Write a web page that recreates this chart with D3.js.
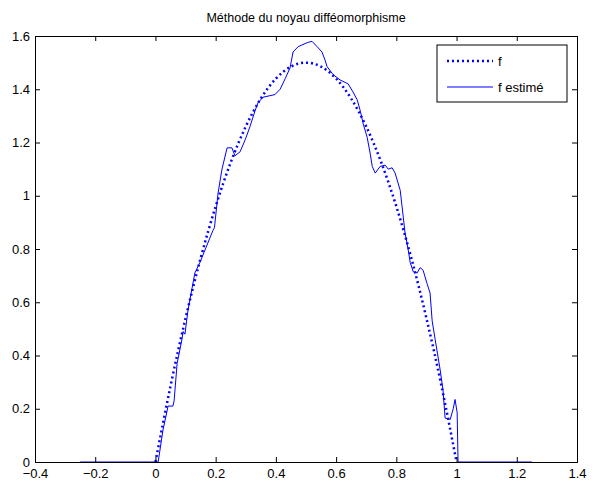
<!DOCTYPE html>
<html>
<head>
<meta charset="utf-8">
<script src="https://cdn.jsdelivr.net/npm/d3@7"></script>
<style>
  body { margin: 0; background: #fff; }
  svg { display: block; font-family: "Liberation Sans", Arial, sans-serif; }
</style>
</head>
<body>
<svg id="chart"></svg>
<script>
const width = 592
const height = 489

const title = "Méthode du noyau difféomorphisme"
const legendLabels = ["f", "f estimé"]
const xTicks = [-0.4, -0.2, 0, 0.2, 0.4, 0.6, 0.8, 1, 1.2, 1.4]
const yTicks = [0, 0.2, 0.4, 0.6, 0.8, 1, 1.2, 1.4, 1.6]

// true density f
const fX = [0, 0.05, 0.1, 0.15, 0.2, 0.25, 0.3, 0.35, 0.4, 0.45, 0.5, 0.55, 0.6, 0.65, 0.7, 0.75, 0.8, 0.85, 0.9, 0.95, 1]
const fY = [0, 0.285, 0.54, 0.765, 0.96, 1.125, 1.26, 1.365, 1.44, 1.485, 1.5, 1.485, 1.44, 1.365, 1.26, 1.125, 0.96, 0.765, 0.54, 0.285, 0]

// estimated density
const estX = [-0.25, 0.009, 0.015, 0.025, 0.042, 0.058, 0.062, 0.072, 0.088, 0.092, 0.098, 0.108, 0.131, 0.148, 0.191, 0.196, 0.208, 0.221, 0.238, 0.254, 0.264, 0.281, 0.298, 0.314, 0.331, 0.341, 0.357, 0.397, 0.414, 0.431, 0.447, 0.457, 0.474, 0.504, 0.52, 0.537, 0.553, 0.563, 0.57, 0.59, 0.613, 0.64, 0.656, 0.67, 0.68, 0.69, 0.703, 0.713, 0.72, 0.73, 0.746, 0.763, 0.773, 0.786, 0.796, 0.813, 0.823, 0.829, 0.839, 0.846, 0.856, 0.869, 0.879, 0.889, 0.902, 0.912, 0.919, 0.929, 0.945, 0.955, 0.962, 0.979, 0.989, 0.995, 1.002, 1.005, 1.25]
const estY = [0, 0, 0.045, 0.12, 0.21, 0.21, 0.23, 0.37, 0.46, 0.49, 0.48, 0.57, 0.71, 0.75, 0.87, 0.88, 1.01, 1.1, 1.18, 1.18, 1.15, 1.165, 1.21, 1.26, 1.32, 1.35, 1.37, 1.38, 1.4, 1.44, 1.48, 1.54, 1.56, 1.575, 1.58, 1.56, 1.54, 1.51, 1.485, 1.455, 1.435, 1.42, 1.39, 1.36, 1.32, 1.27, 1.22, 1.16, 1.11, 1.085, 1.11, 1.115, 1.1, 1.105, 1.085, 1.02, 0.92, 0.86, 0.8, 0.75, 0.715, 0.71, 0.73, 0.72, 0.67, 0.635, 0.53, 0.46, 0.35, 0.27, 0.165, 0.16, 0.2, 0.235, 0.185, 0, 0]

const margin = { top: 36, right: 15, bottom: 27, left: 35 }
const blue = "#0000ff"

const svg = d3.select("#chart")
    .attr("width", width)
    .attr("height", height)

const x = d3.scaleLinear().domain([-0.4, 1.4]).range([margin.left, width - margin.right])
const y = d3.scaleLinear().domain([0, 1.6]).range([height - margin.bottom, margin.top])

const fData = fX.map((v, i) => [v, fY[i]])
const estData = estX.map((v, i) => [v, estY[i]])

// title
svg.append("text")
    .attr("x", (x.range()[0] + x.range()[1]) / 2)
    .attr("y", 22)
    .attr("text-anchor", "middle")
    .attr("font-size", 12.5)
    .text(title)

// curves
svg.append("path")
    .datum(estData)
    .attr("fill", "none")
    .attr("stroke", blue)
    .attr("stroke-width", 1)
    .attr("d", d3.line().x(d => x(d[0])).y(d => y(d[1])))

svg.append("path")
    .datum(fData)
    .attr("fill", "none")
    .attr("stroke", blue)
    .attr("stroke-width", 2.5)
    .attr("stroke-dasharray", "2,3")
    .attr("d", d3.line().curve(d3.curveNatural).x(d => x(d[0])).y(d => y(d[1])))

// axes with inward ticks on all four sides (matlab box style)
const tick = 5
const gx = svg.append("g")
    .attr("transform", `translate(0,${y(0)})`)
    .call(d3.axisBottom(x).tickValues(xTicks).tickSize(-tick).tickPadding(8).tickFormat(d3.format("")))
const gxTop = svg.append("g")
    .attr("transform", `translate(0,${y(1.6)})`)
    .call(d3.axisTop(x).tickValues(xTicks).tickSize(-tick).tickFormat(""))
const gy = svg.append("g")
    .attr("transform", `translate(${x(-0.4)},0)`)
    .call(d3.axisLeft(y).tickValues(yTicks).tickSize(-tick).tickPadding(5).tickFormat(d3.format("")))
const gyRight = svg.append("g")
    .attr("transform", `translate(${x(1.4)},0)`)
    .call(d3.axisRight(y).tickValues(yTicks).tickSize(-tick).tickFormat(""))

for (const g of [gx, gxTop, gy, gyRight]) {
    g.select(".domain").attr("stroke", "#000").attr("stroke-width", 1)
    g.selectAll(".tick line").attr("stroke", "#000")
    g.selectAll("text").attr("font-size", 13).attr("font-family", "Liberation Sans, Arial, sans-serif").attr("fill", "#000")
}
gx.selectAll("text").attr("dy", "0.6em")

// legend
const lg = svg.append("g").attr("transform", "translate(437,45)")
lg.append("rect")
    .attr("width", 130)
    .attr("height", 57)
    .attr("fill", "#fff")
    .attr("stroke", "#000")
    .attr("stroke-width", 1)

const rows = [
    { label: legendLabels[0], dash: "2,3", w: 2.5 },
    { label: legendLabels[1], dash: null, w: 1 }
]
rows.forEach((r, i) => {
    const cy = 16 + i * 26
    lg.append("line")
        .attr("x1", 10).attr("x2", 56)
        .attr("y1", cy).attr("y2", cy)
        .attr("stroke", blue)
        .attr("stroke-width", r.w)
        .attr("stroke-dasharray", r.dash)
    lg.append("text")
        .attr("x", 61)
        .attr("y", cy)
        .attr("dy", "0.35em")
        .attr("font-size", 13)
        .text(r.label)
})
</script>
</body>
</html>
